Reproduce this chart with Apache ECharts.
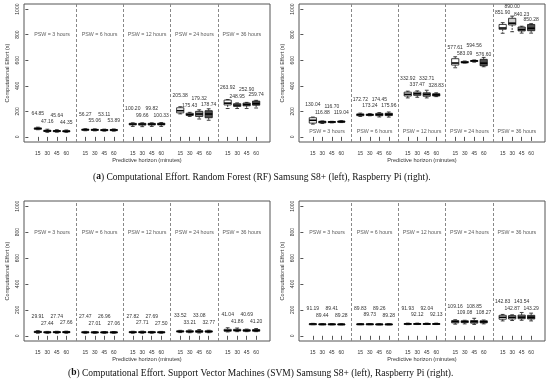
<!DOCTYPE html>
<html><head><meta charset="utf-8">
<script src="https://cdn.jsdelivr.net/npm/echarts@6/dist/echarts.min.js"></script>
<style>html,body{margin:0;padding:0;background:#fff}#c{width:550px;height:387px}</style>
</head><body><div id="c"></div>
<script>
// ---------- data ----------
const minutes = ['15', '30', '45', '60'];
const pswGroups = ['PSW = 3 hours', 'PSW = 6 hours', 'PSW = 12 hours', 'PSW = 24 hours', 'PSW = 36 hours'];
const yTicks = [0, 200, 400, 600, 800, 1000];

// RF, Samsung S8+ : value labels and box stats [low, Q1, median, Q3, high]
const rfSamsungLabels = [64.85, 47.16, 45.64, 44.35, 56.27, 55.06, 53.11, 53.89, 100.20, 99.66, 99.82, 100.33,
  205.38, 175.43, 179.32, 178.74, 263.92, 248.95, 252.90, 259.74];
const rfSamsungBoxes = [
  [56, 60, 65, 70, 76], [36, 42, 47, 52, 60], [37, 41, 46, 50, 56], [36, 40, 44, 48, 54],
  [48, 52, 56, 60, 64], [47, 51, 55, 59, 63], [45, 49, 53, 57, 61], [45, 49, 54, 58, 62],
  [82, 94, 100, 106, 110], [80, 92, 100, 106, 110], [82, 93, 100, 106, 110], [82, 94, 100, 107, 112],
  [180, 188, 205, 228, 236], [160, 168, 175, 185, 192], [140, 160, 179, 200, 212], [130, 150, 179, 205, 220],
  [222, 250, 264, 288, 292], [222, 238, 249, 260, 266], [222, 243, 253, 265, 270], [226, 248, 260, 280, 286]
];

// RF, Raspberry Pi
const rfRaspberryLabels = [130.04, 116.88, 116.70, 119.04, 172.72, 173.24, 174.45, 175.96, 332.92, 337.47, 332.71, 328.83,
  577.61, 583.09, 594.56, 576.60, 851.90, 890.00, 840.23, 850.28];
const rfRaspberryBoxes = [
  [100, 108, 130, 150, 155], [105, 110, 117, 122, 125], [110, 113, 117, 120, 122], [112, 115, 119, 124, 127],
  [160, 166, 173, 180, 186], [165, 168, 173, 178, 182], [156, 166, 174, 184, 190], [155, 167, 176, 185, 195],
  [305, 320, 333, 350, 358], [310, 325, 337, 350, 360], [305, 318, 333, 345, 365], [315, 320, 329, 338, 345],
  [541, 562, 578, 612, 627], [578, 581, 583, 590, 594], [585, 590, 595, 598, 602], [549, 557, 577, 607, 622],
  [811, 842, 852, 880, 894], [823, 876, 890, 928, 945], [812, 829, 840, 860, 866], [812, 831, 850, 880, 886]
];

// SVM, Samsung S8+
const svmSamsungLabels = [29.91, 27.44, 27.74, 27.66, 27.47, 27.01, 26.96, 27.06, 27.82, 27.71, 27.69, 27.50,
  33.52, 33.21, 33.08, 32.77, 41.04, 41.86, 40.69, 41.20];
const svmSamsungBoxes = [
  [20, 25, 30, 35, 40], [20, 24, 27, 31, 34], [20, 24, 28, 32, 35], [20, 24, 28, 33, 36],
  [20, 24, 27, 31, 34], [20, 24, 27, 30, 33], [20, 23, 27, 30, 33], [20, 24, 27, 30, 33],
  [20, 24, 28, 32, 35], [20, 24, 28, 32, 36], [20, 24, 28, 31, 34], [20, 24, 27, 31, 34],
  [25, 30, 34, 38, 42], [24, 29, 33, 39, 45], [22, 28, 33, 40, 48], [24, 29, 33, 38, 43],
  [30, 36, 41, 50, 62], [32, 38, 42, 50, 60], [32, 36, 41, 47, 52], [32, 36, 41, 48, 56]
];

// SVM, Raspberry Pi
const svmRaspberryLabels = [91.19, 89.44, 89.41, 89.28, 89.83, 89.73, 89.26, 89.28, 91.93, 92.12, 92.04, 92.13,
  109.16, 109.08, 108.85, 108.27, 142.83, 142.87, 143.54, 143.29];
const svmRaspberryBoxes = [
  [86, 89, 91, 93, 96], [85, 87, 89, 92, 94], [85, 87, 89, 92, 94], [85, 87, 89, 91, 93],
  [86, 88, 90, 92, 94], [86, 88, 90, 92, 94], [85, 87, 89, 91, 93], [85, 87, 89, 91, 93],
  [86, 89, 92, 95, 98], [87, 90, 92, 95, 98], [87, 90, 92, 95, 98], [87, 90, 92, 95, 98],
  [90, 100, 109, 118, 124], [92, 102, 109, 116, 120], [88, 98, 109, 118, 135], [92, 100, 108, 116, 122],
  [115, 128, 143, 158, 165], [118, 130, 143, 156, 162], [120, 132, 144, 160, 180], [115, 130, 143, 158, 175]
];

// ---------- layout ----------
const fillByHorizon = ['#ffffff', '#cfcfcf', '#8f8f8f', '#4d4d4d'];
const panels = [
  { labels: rfSamsungLabels, boxes: rfSamsungBoxes, left: 24, top: 4, height: 138, pswLevel: 800 },
  { labels: rfRaspberryLabels, boxes: rfRaspberryBoxes, left: 299, top: 4, height: 138, pswLevel: 40 },
  { labels: svmSamsungLabels, boxes: svmSamsungBoxes, left: 24, top: 201, height: 140, pswLevel: 800 },
  { labels: svmRaspberryLabels, boxes: svmRaspberryBoxes, left: 299, top: 201, height: 140, pswLevel: 800 }
];

const positions = [];
for (let g = 0; g < 5; g++) for (let k = 0; k < 4; k++) positions.push(g * 5 + k + 1);

const FONT = 'Liberation Sans, Arial, sans-serif';
const grid = [], xAxis = [], yAxis = [], series = [];

panels.forEach((p, i) => {
  grid.push({ left: p.left, top: p.top, width: 246, height: p.height, show: true,
    borderColor: '#555', borderWidth: 1, backgroundColor: '#fff', containLabel: false });
  xAxis.push({
    type: 'value', gridIndex: i, min: -0.46, max: 25.46,
    name: 'Predictive horizon (minutes)', nameLocation: 'middle', nameGap: 15,
    nameTextStyle: { fontFamily: FONT, fontSize: 5.6, color: '#333' },
    axisLine: { show: false }, splitLine: { show: false },
    axisTick: { show: true, customValues: positions, length: 4, inside: false, lineStyle: { color: '#555' } },
    axisLabel: { show: true, customValues: positions, margin: 9, fontFamily: FONT, fontSize: 5, color: '#333',
      formatter: v => minutes[(Math.round(v) - 1) % 5] }
  });
  yAxis.push({
    type: 'value', gridIndex: i, min: -40, max: 1040,
    name: 'Computational Effort (s)', nameLocation: 'middle', nameGap: 14,
    nameTextStyle: { fontFamily: FONT, fontSize: 5.6, color: '#333' },
    axisLine: { show: false }, splitLine: { show: false },
    axisTick: { show: true, customValues: yTicks, length: 3, lineStyle: { color: '#555' } },
    axisLabel: { show: true, customValues: yTicks, rotate: 90, margin: 4, fontFamily: FONT, fontSize: 5, color: '#333',
      formatter: v => String(v) }
  });

  const data = p.boxes.map((b, j) => {
    const k = j % 4;
    let off = (k % 2 === 0) ? 120 : 70;
    if (k > 0 && b[2] > p.boxes[j - 1][2] + 20) off = 130;
    return [positions[j], b[0], b[1], b[2], b[3], b[4], b[2] + off, p.labels[j], k];
  });

  series.push({
    type: 'custom', xAxisIndex: i, yAxisIndex: i, data: data,
    encode: { x: 0, y: [1, 2, 3, 4, 5] },
    silent: true, animation: false,
    renderItem: (params, api) => {
      const x = api.value(0);
      const lo = api.coord([x, api.value(1)]);
      const q1 = api.coord([x, api.value(2)]);
      const md = api.coord([x, api.value(3)]);
      const q3 = api.coord([x, api.value(4)]);
      const hi = api.coord([x, api.value(5)]);
      const lab = api.coord([x, api.value(6)]);
      const xl = api.coord([x - 0.38, 0])[0];
      const xr = api.coord([x + 0.38, 0])[0];
      const cl = api.coord([x - 0.2, 0])[0];
      const cr = api.coord([x + 0.2, 0])[0];
      const cx = md[0];
      const k = api.value(8);
      const ls = { stroke: '#111', lineWidth: 0.8 };
      return { type: 'group', children: [
        { type: 'line', shape: { x1: cx, y1: q3[1], x2: cx, y2: hi[1] }, style: Object.assign({ lineDash: [2, 1] }, ls) },
        { type: 'line', shape: { x1: cx, y1: q1[1], x2: cx, y2: lo[1] }, style: Object.assign({ lineDash: [2, 1] }, ls) },
        { type: 'line', shape: { x1: cl, y1: hi[1], x2: cr, y2: hi[1] }, style: ls },
        { type: 'line', shape: { x1: cl, y1: lo[1], x2: cr, y2: lo[1] }, style: ls },
        { type: 'rect', shape: { x: xl, y: q3[1], width: xr - xl, height: Math.max(q1[1] - q3[1], 1) },
          style: { fill: fillByHorizon[k], stroke: '#111', lineWidth: 0.8 } },
        { type: 'line', shape: { x1: xl, y1: md[1], x2: xr, y2: md[1] }, style: { stroke: '#000', lineWidth: 1.6 } },
        { type: 'text', x: cx, y: lab[1], style: { text: api.value(7).toFixed(2), fontFamily: FONT, fontSize: 5,
          fill: '#333', align: 'center', verticalAlign: 'middle' } }
      ] };
    },
    markLine: {
      silent: true, symbol: 'none', animation: false,
      label: { show: false },
      lineStyle: { type: [3, 2], color: '#888', width: 1 },
      data: [5, 10, 15, 20].map(v => ({ xAxis: v }))
    }
  });

  series.push({
    type: 'scatter', xAxisIndex: i, yAxisIndex: i, symbolSize: 0, silent: true, animation: false,
    data: pswGroups.map((name, g) => ({ name: name, value: [g * 5 + 2.5, p.pswLevel] })),
    label: { show: true, position: 'inside', formatter: d => d.name, fontFamily: FONT, fontSize: 5.3, color: '#333' }
  });
});

const capStyle = { fontFamily: 'Liberation Serif, DejaVu Serif, serif', fontSize: 9.5, fontWeight: 'normal', color: '#111',
  rich: { b: { fontFamily: 'Liberation Serif, DejaVu Serif, serif', fontSize: 9.5, fontWeight: 'bold', color: '#111' } } };

const chart = echarts.init(document.getElementById('c'), null, { renderer: 'canvas' });
chart.setOption({
  animation: false,
  backgroundColor: '#fff',
  title: [
    { text: '({b|a}) Computational Effort. Random Forest (RF) Samsung S8+ (left), Raspberry Pi (right).',
      left: 93, top: 172, padding: 0, textStyle: capStyle },
    { text: '({b|b}) Computational Effort. Support Vector Machines (SVM) Samsung S8+ (left), Raspberry Pi (right).',
      left: 68, top: 368, padding: 0, textStyle: capStyle }
  ],
  grid: grid, xAxis: xAxis, yAxis: yAxis, series: series
});
</script></body></html>
